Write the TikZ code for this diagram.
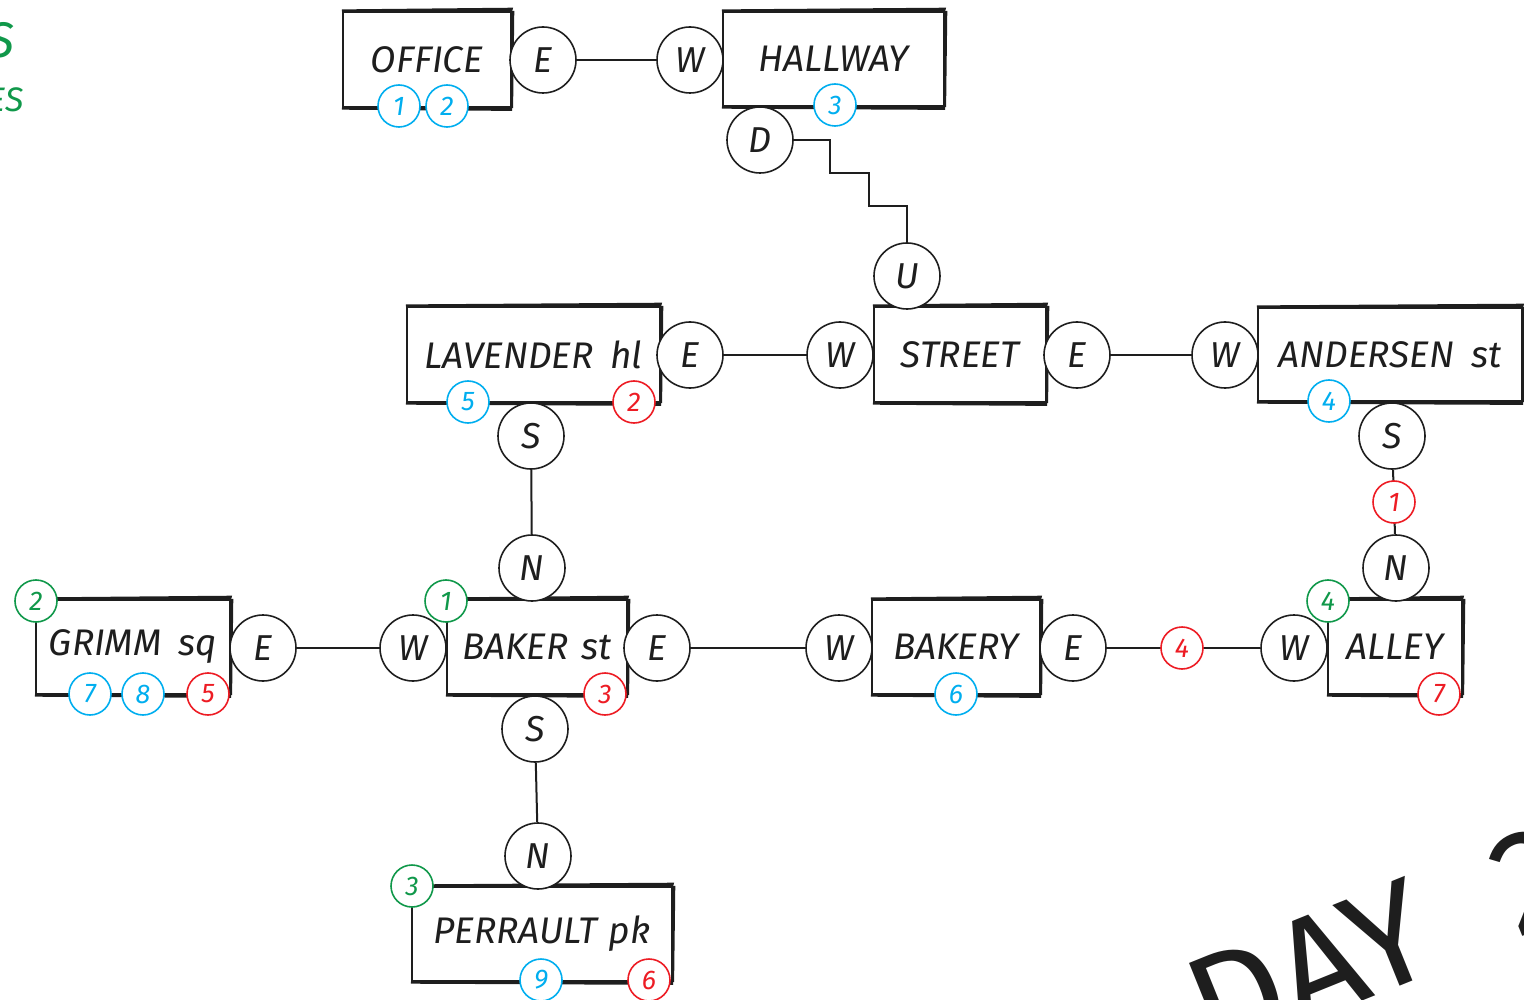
\documentclass[tikz,border=0pt]{standalone}
\usepackage{fontspec}
\setmainfont{Fira Sans}
\definecolor{ink}{HTML}{1E1E1E}
\definecolor{nblue}{HTML}{00AEEF}
\definecolor{nred}{HTML}{ED1C24}
\definecolor{ngreen}{HTML}{10984A}
\begin{document}
\begin{tikzpicture}[x=1pt,y=-1pt,
  room/.style={draw=ink, line width=2.2pt, fill=white, inner sep=0pt,
    font=\fontsize{37}{37}\selectfont\itshape, text=ink},
  dir/.style={circle, draw=ink, line width=1.6pt, fill=white, minimum size=66pt,
    inner sep=0pt, font=\fontsize{36}{36}\selectfont\itshape, text=ink},
  num/.style={circle, draw=#1, text=#1, line width=1.6pt, fill=white,
    minimum size=42pt, inner sep=0pt, font=\fontsize{27}{27}\selectfont\itshape},
  link/.style={draw=ink, line width=2pt},
  heavy/.style={fill=ink}
]
\useasboundingbox (0,0) rectangle (1524,1000);
\clip (0,0) rectangle (1524,1000);

% room boxes
\node[room, minimum width=168pt, minimum height=95pt] (office)   at (427,59.5)  {OFFICE};
\node[room, minimum width=221pt, minimum height=94pt] (hallway)  at (833.5,59)  {HALLWAY};
\node[room, minimum width=253pt, minimum height=95pt] (lavender) at (533.5,354.5) {LAVENDER\hspace{0.45em}hl};
\node[room, minimum width=172pt, minimum height=95pt] (street)   at (960,354.5) {STREET};
\node[room, minimum width=264pt, minimum height=93pt] (andersen) at (1390,354.5) {ANDERSEN\hspace{0.45em}st};
\node[room, minimum width=194pt, minimum height=94pt] (grimm)    at (133,647)   {GRIMM\hspace{0.45em}sq};
\node[room, minimum width=180pt, minimum height=94pt] (baker)    at (537,647)   {BAKER\hspace{0.35em}st};
\node[room, minimum width=168pt, minimum height=94pt] (bakery)   at (956,647)   {BAKERY};
\node[room, minimum width=134pt, minimum height=94pt] (alley)    at (1395,647)  {ALLEY};
\node[room, minimum width=260pt, minimum height=94pt] (perrault) at (542,934)   {PERRAULT\hspace{0.3em}pk};

% sketchy heavy strokes on top, right and bottom edges
\foreach \r in {office,hallway,lavender,street,andersen,grimm,baker,bakery,alley,perrault}{
  \fill[heavy] ([yshift=-0.5pt]\r.north west) -- ([yshift=-0.5pt]\r.north east)
     -- ([yshift=3.2pt,xshift=1pt]\r.north east) -- ([yshift=1.5pt]\r.north west) -- cycle;
  \fill[heavy] ([xshift=-0.5pt]\r.north east) -- ([xshift=2.2pt]\r.north east)
     -- ([xshift=1pt]\r.south east) -- ([xshift=-0.5pt]\r.south east) -- cycle;
  \fill[heavy] ([yshift=0.5pt]\r.south west) -- ([yshift=0.5pt]\r.south east)
     -- ([yshift=-2.8pt]\r.south east) -- ([yshift=-1.6pt]\r.south west) -- cycle;
}

% exits
\node[dir] (officeE)  at (543,60)   {E};
\node[dir] (hallW)    at (690,60)   {W};
\node[dir] (hallD)    at (760,140)  {D};
\node[dir] (streetU)  at (907,276)  {U};
\node[dir] (lavE)     at (690,355)  {E};
\node[dir] (streetW)  at (840,355)  {W};
\node[dir] (streetE)  at (1077,355) {E};
\node[dir] (andW)     at (1225,355) {W};
\node[dir] (lavS)     at (531,436)  {S};
\node[dir] (bakerN)   at (532,568)  {N};
\node[dir] (andS)     at (1392,436) {S};
\node[dir] (alleyN)   at (1396,568) {N};
\node[dir] (grimmE)   at (263,648)  {E};
\node[dir] (bakerW)   at (413,648)  {W};
\node[dir] (bakerE)   at (657,648)  {E};
\node[dir] (bakeryW)  at (839,648)  {W};
\node[dir] (bakeryE)  at (1073,648) {E};
\node[dir] (alleyW)   at (1294,648) {W};
\node[dir] (bakerS)   at (535,729)  {S};
\node[dir] (perN)     at (538,856)  {N};

% passages
\draw[link] (officeE) -- (hallW);
\draw[link] (hallD.east) -- ++(36,0) -- ++(0,33) -- ++(39,0) -- ++(0,33) -| (streetU.north);
\draw[link] (lavE) -- (streetW);
\draw[link] (streetE) -- (andW);
\draw[link] (lavS) -- (bakerN);
\draw[link] (andS) -- (alleyN);
\draw[link] (grimmE) -- (bakerW);
\draw[link] (bakerE) -- (bakeryW);
\draw[link] (bakeryE) -- (alleyW);
\draw[link] (bakerS) -- (perN);

% markers
\node[num=nblue]  (o1) at (399,106) {1};
\node[num=nblue]  (o2) at (447,106) {2};
\node[num=nblue]  (h3) at (835,105) {3};
\node[num=nblue]  (l5) at (468,402) {5};
\node[num=nred]   (l2) at (634,402) {2};
\node[num=nblue]  (a4) at (1329,401) {4};
\node[num=nred]   (r1) at (1394,502) {1};
\node[num=ngreen] (g2) at (36,601)  {2};
\node[num=nblue]  (g7) at (90,694)  {7};
\node[num=nblue]  (g8) at (143,694) {8};
\node[num=nred]   (g5) at (208,694) {5};
\node[num=ngreen] (b1) at (446,601) {1};
\node[num=nred]   (b3) at (605,694) {3};
\node[num=nblue]  (k6) at (956,694) {6};
\node[num=nred]   (r4) at (1182,648) {4};
\node[num=ngreen] (y4) at (1328,601) {4};
\node[num=nred]   (y7) at (1439,694) {7};
\node[num=ngreen] (p3) at (412,886) {3};
\node[num=nblue]  (p9) at (541,980) {9};
\node[num=nred]   (p6) at (649,980) {6};

% margin notes
\node[anchor=east, text=ngreen, font=\fontsize{50}{50}\selectfont\itshape] (noteA) at (18,40) {S};
\node[anchor=east, text=ngreen, font=\fontsize{34}{34}\selectfont\itshape] (noteB) at (27,100) {ES};

% day heading
\node[anchor=south west, rotate=22, text=ink,
  font=\fontsize{145}{145}\selectfont] (day) at (1212,1066) {DAY\hspace{0.55em}2};
\end{tikzpicture}
\end{document}
